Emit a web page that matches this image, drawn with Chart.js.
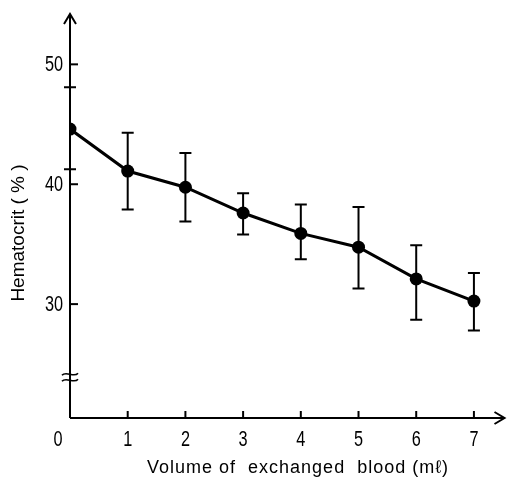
<!DOCTYPE html>
<html>
<head>
    <script src="https://cdn.jsdelivr.net/npm/chart.js@4/dist/chart.umd.min.js"></script>
    <style>
        html, body { margin: 0; padding: 0; background: #fff; }
        #wrap { width: 511px; height: 479px; }
    </style>
</head>
<body>
    <div id="wrap"><canvas id="chart"></canvas></div>
<script>
    // volume of exchanged blood (ml)
    var volumes = [0, 1, 2, 3, 4, 5, 6, 7];
    // hematocrit (%) mean and error bar ends
    var hematocrit = [44.6, 41.1, 39.75, 37.6, 35.9, 34.75, 32.1, 30.25];
    var errHigh = [48.1, 44.3, 42.6, 39.25, 38.3, 38.1, 34.9, 32.6];
    var errLow = [41.25, 37.9, 36.9, 35.8, 33.75, 31.3, 28.7, 27.8];
    var yTicks = [30, 40, 50];
    var xTicks = [0, 1, 2, 3, 4, 5, 6, 7];

    var tickFont = '22px "Liberation Sans", Arial, sans-serif';
    var titleFont = '18px "Liberation Sans", Arial, sans-serif';

    // narrow digits like the printed figure
    function narrowText(ctx, s, px, py) {
        ctx.save();
        ctx.translate(px, py);
        ctx.scale(0.74, 1);
        ctx.fillText(s, 0, 0);
        ctx.restore();
    }

    var axesPlugin = {
        id: 'axes',
        afterDatasetsDraw: function (chart) {
            var ctx = chart.ctx, x = chart.scales.x, y = chart.scales.y;
            var a = chart.chartArea;
            var x0 = x.getPixelForValue(0), y0 = a.bottom;
            ctx.save();
            ctx.strokeStyle = '#000';
            ctx.fillStyle = '#000';
            ctx.lineWidth = 2;

            // axes with arrows
            ctx.beginPath();
            ctx.moveTo(x0, y0); ctx.lineTo(x0, a.top);
            ctx.moveTo(x0 - 6, a.top + 10); ctx.lineTo(x0, a.top); ctx.lineTo(x0 + 6, a.top + 10);
            ctx.moveTo(x0, y0); ctx.lineTo(a.right, y0);
            ctx.moveTo(a.right - 10, y0 - 6); ctx.lineTo(a.right, y0); ctx.lineTo(a.right - 10, y0 + 6);
            ctx.stroke();

            // y ticks
            ctx.font = tickFont;
            ctx.textAlign = 'right';
            ctx.textBaseline = 'middle';
            yTicks.forEach(function (v) {
                var py = y.getPixelForValue(v);
                ctx.beginPath();
                ctx.moveTo(x0, py); ctx.lineTo(x0 + 8, py);
                ctx.stroke();
                narrowText(ctx, String(v), x0 - 7, py + 1);
            });

            // x ticks
            ctx.textAlign = 'center';
            ctx.textBaseline = 'top';
            xTicks.forEach(function (v) {
                var px = x.getPixelForValue(v);
                if (v !== 0) {
                    ctx.beginPath();
                    ctx.moveTo(px, y0); ctx.lineTo(px, y0 - 7);
                    ctx.stroke();
                    narrowText(ctx, String(v), px, y0 + 11);
                } else {
                    narrowText(ctx, String(v), px - 12, y0 + 11);
                }
            });

            // axis break
            ctx.lineWidth = 1.6;
            [-3, 3].forEach(function (d) {
                var by = y.getPixelForValue(23.9) + d;
                ctx.beginPath();
                ctx.moveTo(x0 - 8, by + 1);
                ctx.bezierCurveTo(x0 - 4, by - 4, x0 + 4, by + 4, x0 + 8, by - 1);
                ctx.stroke();
            });

            // titles
            ctx.font = titleFont;
            ctx.letterSpacing = '1px';
            ctx.textAlign = 'center';
            ctx.textBaseline = 'middle';
            ctx.fillText('Volume of  exchanged  blood (m\u2113)', 298, 468);
            ctx.letterSpacing = '0px';
            ctx.translate(19, 233);
            ctx.rotate(-Math.PI / 2);
            ctx.font = '19px "Liberation Sans", Arial, sans-serif';
            ctx.fillText('Hematocrit ( % )', 0, 0);
            ctx.restore();
        }
    };

    var errorPlugin = {
        id: 'errorBars',
        beforeDatasetsDraw: function (chart) {
            var ctx = chart.ctx, x = chart.scales.x, y = chart.scales.y;
            ctx.save();
            ctx.strokeStyle = '#000';
            ctx.lineWidth = 2;
            volumes.forEach(function (v, i) {
                var px = x.getPixelForValue(v);
                var hi = y.getPixelForValue(errHigh[i]);
                var lo = y.getPixelForValue(errLow[i]);
                ctx.beginPath();
                ctx.moveTo(px, hi); ctx.lineTo(px, lo);
                ctx.moveTo(px - 6, hi); ctx.lineTo(px + 6, hi);
                ctx.moveTo(px - 6, lo); ctx.lineTo(px + 6, lo);
                ctx.stroke();
            });
            ctx.restore();
        }
    };

    new Chart('chart', {
        type: 'line',
        data: {
            datasets: [{
                data: volumes.map(function (v, i) { return { x: v, y: hematocrit[i] }; }),
                borderColor: '#000',
                backgroundColor: '#000',
                borderWidth: 3,
                pointRadius: 6.5,
                pointBackgroundColor: '#000',
                pointBorderWidth: 0,
                tension: 0
            }]
        },
        options: {
            responsive: true,
            maintainAspectRatio: false,
            animation: false,
            layout: { padding: { left: 70, right: 4, top: 14, bottom: 61 } },
            plugins: { legend: { display: false }, tooltip: { enabled: false } },
            scales: {
                x: { type: 'linear', min: 0, max: 7.53, display: false },
                y: { type: 'linear', min: 20.5, max: 54.2, display: false }
            }
        },
        plugins: [errorPlugin, axesPlugin]
    });
</script>
</body>
</html>
